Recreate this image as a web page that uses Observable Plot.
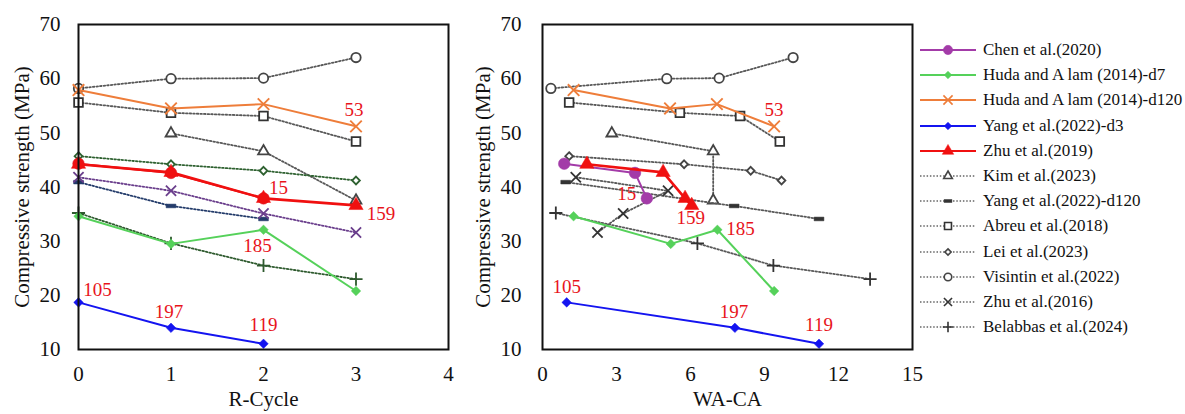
<!DOCTYPE html>
<html><head><meta charset="utf-8">
<script src="https://cdn.jsdelivr.net/npm/d3@7"></script>
<script src="https://cdn.jsdelivr.net/npm/@observablehq/plot@0.6"></script>
<style>
body{margin:0;background:#fff}
#wrap{position:relative;width:1185px;height:414px;overflow:hidden;background:#fff}
#left{position:absolute;left:0;top:0}
#right{position:absolute;left:460px;top:0}
#legend{position:absolute;left:918px;top:0;width:267px;height:414px}
.item{position:absolute;left:0;height:22px;display:flex;align-items:center;white-space:nowrap;font-size:17px;color:#111}
.item svg{flex:none;margin-right:3px}
</style></head><body>
<div id="wrap"><div id="left"></div><div id="right"></div><div id="legend"></div></div>
<script>
// ---------- data ----------
const seriesNames = ["Chen et al.(2020)","Huda and A lam (2014)-d7","Huda and A lam (2014)-d120","Yang et al.(2022)-d3","Zhu et al.(2019)","Kim et al.(2023)","Yang et al.(2022)-d120","Abreu et al.(2018)","Lei et al.(2023)","Visintin et al.(2022)","Zhu et al.(2016)","Belabbas et al.(2024)"];

const chenCycle = [0,1,2];
const chenWaca = [0.88,3.75,4.23];
const chenFc = [44.3,42.6,37.9];

const hudaD7Cycle = [0,1,2,3];
const hudaD7Waca = [1.26,5.2,7.09,9.39];
const hudaD7Fc = [34.6,29.5,32.1,20.8];

const hudaD120Cycle = [0,1,2,3];
const hudaD120Waca = [1.26,5.17,7.07,9.39];
const hudaD120Fc = [57.9,54.5,55.3,51.2];

const yangD3Cycle = [0,1,2];
const yangD3Waca = [0.98,7.8,11.21];
const yangD3Fc = [18.7,14.0,11.05];

const zhu2019Cycle = [0,1,2,3];
const zhu2019Waca = [1.80,4.89,5.78,6.05];
const zhu2019Fc = [44.2,42.7,37.9,36.6];

const kimCycle = [1,2,3];
const kimWaca = [2.81,6.92,6.92];
const kimFc = [49.9,46.6,37.5];

const yangD120Cycle = [0,1,2];
const yangD120Waca = [0.94,7.77,11.21];
const yangD120Fc = [40.9,36.5,34.1];

const abreuCycle = [0,1,2,3];
const abreuWaca = [1.08,5.57,8.01,9.62];
const abreuFc = [55.6,53.7,53.1,48.4];

const leiCycle = [0,1,2,3];
const leiWaca = [1.08,5.74,8.44,9.69];
const leiFc = [45.7,44.2,43.0,41.2];

const visintinCycle = [0,1,2,3];
const visintinWaca = [0.34,5.04,7.16,10.16];
const visintinFc = [58.2,60.0,60.1,63.9];

const zhu2016Cycle = [0,1,2,3];
const zhu2016Waca = [1.35,5.09,3.27,2.23];
const zhu2016Fc = [41.8,39.3,35.1,31.6];

const belabbasCycle = [0,1,2,3];
const belabbasWaca = [0.54,6.28,9.36,13.28];
const belabbasFc = [35.2,29.6,25.5,23.0];

// point labels (series, point index, text)
const labelSeries = ["Yang et al.(2022)-d3","Yang et al.(2022)-d3","Yang et al.(2022)-d3","Huda and A lam (2014)-d7","Huda and A lam (2014)-d120","Chen et al.(2020)","Zhu et al.(2019)"];
const labelIndex = [0,1,2,2,3,2,3];
const labelText = ["105","197","119","185","53","15","159"];

const yTicks = [10,20,30,40,50,60,70];
const cycleTicks = [0,1,2,3,4];
const wacaTicks = [0,3,6,9,12,15];

// ---------- build table ----------
const raw = [
  [chenCycle,chenWaca,chenFc],[hudaD7Cycle,hudaD7Waca,hudaD7Fc],[hudaD120Cycle,hudaD120Waca,hudaD120Fc],
  [yangD3Cycle,yangD3Waca,yangD3Fc],[zhu2019Cycle,zhu2019Waca,zhu2019Fc],[kimCycle,kimWaca,kimFc],
  [yangD120Cycle,yangD120Waca,yangD120Fc],[abreuCycle,abreuWaca,abreuFc],[leiCycle,leiWaca,leiFc],
  [visintinCycle,visintinWaca,visintinFc],[zhu2016Cycle,zhu2016Waca,zhu2016Fc],[belabbasCycle,belabbasWaca,belabbasFc]
];
const table = new Map(seriesNames.map((n,i)=>[n, raw[i][2].map((v,j)=>({series:n, idx:j, cycle:raw[i][0][j], waca:raw[i][1][j], fc:v}))]));

// ---------- styles ----------
const FONT = "Liberation Serif";
const dash = {draw(ctx,size){const w=Math.sqrt(size)*1.15,h=w*0.38;ctx.rect(-w/2,-h/2,w,h);}};
const style = {
  "Chen et al.(2020)":          {c:"#A33BA8", lc:"#E8141B", sym:"circle",  r:5.8, filled:true, w:2},
  "Huda and A lam (2014)-d7":   {c:"#55D15A", sym:"diamond2", r:4.3, filled:true, w:2},
  "Huda and A lam (2014)-d120": {c:"#EE7D3A", sym:"times",   r:5.3, filled:false, w:2, sw:1.9},
  "Yang et al.(2022)-d3":       {c:"#1414F0", sym:"diamond2", r:4.3, filled:true, w:2},
  "Zhu et al.(2019)":           {c:"#F01010", sym:"triangle", r:5.3, filled:true, w:2.6},
  "Kim et al.(2023)":           {c:"#444", sym:"triangle", r:4.0, dotted:true},
  "Yang et al.(2022)-d120":     {c:"#333", lc:"#233B6A", sym:dash, r:4.8, filled:true, dotted:true},
  "Abreu et al.(2018)":         {c:"#333", sym:"square", r:4.9, dotted:true},
  "Lei et al.(2023)":           {c:"#444", lc:"#2E6130", sym:"diamond2", r:3.5, dotted:true},
  "Visintin et al.(2022)":      {c:"#444", sym:"circle", r:4.7, dotted:true},
  "Zhu et al.(2016)":           {c:"#333", lc:"#6A3E8C", sym:"times", r:4.7, dotted:true},
  "Belabbas et al.(2024)":      {c:"#333", lc:"#2E5A2E", sym:"plus", r:4.3, dotted:true}
};
const drawOrder = ["Visintin et al.(2022)","Abreu et al.(2018)","Kim et al.(2023)","Lei et al.(2023)","Yang et al.(2022)-d120","Zhu et al.(2016)","Belabbas et al.(2024)","Huda and A lam (2014)-d120","Huda and A lam (2014)-d7","Yang et al.(2022)-d3","Chen et al.(2020)","Zhu et al.(2019)"];

const labelOffsets = {
  cycle: [[19,-12],[-2,-16],[0,-19],[-6,16],[-2,-16],[15,-10],[25,8]],
  waca:  [[0,-15],[-1,-16],[0,-19],[23,-1],[0,-16],[-20,-4],[-1,12]]
};

function panel(xKey, domain, ticks, xTitle, ml, mr, width, yPad, yTitleDx, useLeftColors){
  const marks = [];
  for (const name of drawOrder){
    const s = style[name], rows = table.get(name);
    const col = (useLeftColors && s.lc) ? s.lc : s.c;
    const lineCol = s.dotted ? (useLeftColors && s.lc ? s.lc : "#585858") : col;
    marks.push(Plot.line(rows, {x:xKey, y:"fc", stroke:lineCol, strokeWidth: s.dotted?1.8:s.w, strokeDasharray: s.dotted?"1.6 2":null}));
    const stroked = (s.sym==="times"||s.sym==="plus");
    marks.push(Plot.dot(rows, {x:xKey, y:"fc", symbol:s.sym, r:s.r,
      fill: stroked ? "none" : (s.filled ? col : "white"),
      stroke: col, strokeWidth: stroked ? (s.sw||1.8) : (s.filled?0.5:1.8)}));
  }
  labelText.forEach((t,i)=>{
    const row = table.get(labelSeries[i])[labelIndex[i]];
    const [dx,dy] = labelOffsets[xKey][i];
    marks.push(Plot.text([row], {x:xKey, y:"fc", text:()=>t, dx, dy, fill:"#E8141B", fontSize:19}));
  });
  marks.push(Plot.frame({stroke:"#111", strokeWidth:2}));
  marks.push(Plot.axisY({ticks:yTicks, tickSize:0, tickPadding:yPad, label:null, fontSize:21, fill:"#111", tickFormat:d=>String(d)}));
  marks.push(Plot.axisX({ticks, tickSize:0, tickPadding:17, label:null, fontSize:21, fill:"#111", tickFormat:d=>String(d)}));
  marks.push(Plot.text(["Compressive strength (MPa)"], {frameAnchor:"left", textAnchor:"middle", text:d=>d, rotate:-90, dx:yTitleDx, fontSize:21, fill:"#111"}));
  marks.push(Plot.text([xTitle], {frameAnchor:"bottom", textAnchor:"middle", text:d=>d, dy:56, fontSize:21, fill:"#111"}));
  return Plot.plot({
    width, height:414, marginLeft:ml, marginRight:mr, marginTop:24, marginBottom:65,
    x:{domain, axis:null}, y:{domain:[10,70], axis:null},
    style:{overflow:"visible", background:"transparent"},
    marks
  });
}

document.getElementById("left").append(panel("cycle",[0,4],cycleTicks,"R-Cycle",78,12,460,18,-56,true));
document.getElementById("right").append(panel("waca",[0,15],wacaTicks,"WA-CA",82,3,455,21,-59,false));

// ---------- legend ----------
const symMap = {circle:d3.symbolCircle, diamond2:d3.symbolDiamond2, times:d3.symbolTimes, triangle:d3.symbolTriangle, square:d3.symbolSquare, plus:d3.symbolPlus};
const legend = d3.select("#legend");
seriesNames.forEach((name,i)=>{
  const s = style[name];
  const item = legend.append("div").attr("class","item").style("top",(39+i*25.2)+"px");
  const svg = item.append("svg").attr("width",62).attr("height",22);
  svg.append("line").attr("x1",2).attr("x2",58).attr("y1",11).attr("y2",11)
    .attr("stroke", s.dotted?"#666":s.c).attr("stroke-width", s.dotted?1.4:2)
    .attr("stroke-dasharray", s.dotted?"1.5 1.8":null);
  const type = typeof s.sym === "string" ? symMap[s.sym] : s.sym;
  const sz = Math.PI*Math.pow(s.r*0.8,2);
  const stroked = (s.sym==="times"||s.sym==="plus");
  svg.append("path").attr("transform","translate(30,11)").attr("d", d3.symbol(type, sz)())
    .attr("fill", stroked?"none":(s.filled?s.c:"white")).attr("stroke", s.c).attr("stroke-width", stroked?1.6:(s.filled?0.5:1.6));
  item.append("span").text(name);
});

// serif font as inline styles on every text element
d3.selectAll("#wrap svg, #wrap svg g").attr("font-family", null);
d3.selectAll("#wrap text").style("font-family", FONT);
d3.selectAll("#legend span").style("font-family", FONT);
</script>
</body></html>
